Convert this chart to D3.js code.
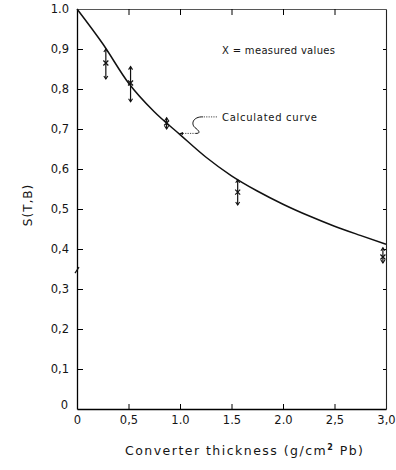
<!DOCTYPE html>
<html>
<head>
<meta charset="utf-8">
<script src="https://cdn.jsdelivr.net/npm/d3@7/dist/d3.min.js"></script>
<style>
  body { margin: 0; background: #fff; }
  svg { display: block; }
  text { font-family: "DejaVu Sans", sans-serif; fill: #151515; }
</style>
</head>
<body>
<svg id="chart" width="396" height="470"></svg>
<script>

// calculated curve
var curveX = [0, 0.25, 0.5, 0.75, 1.0, 1.25, 1.5, 1.75, 2.0, 2.25, 2.5, 2.75, 3.0];
var curveY = [1.0, 0.913, 0.815, 0.743, 0.686, 0.630, 0.583, 0.545, 0.512, 0.483, 0.457, 0.434, 0.412];

// measured values with their error bars
var pointX  = [0.28, 0.52, 0.87, 1.56, 2.97];
var pointY  = [0.865, 0.815, 0.715, 0.542, 0.38];
var errLow  = [0.825, 0.768, 0.700, 0.510, 0.365];
var errHigh = [0.900, 0.856, 0.728, 0.573, 0.403];

var xTicks = [0, 0.5, 1.0, 1.5, 2.0, 2.5, 3.0];
var xTickLabels = ["0", "0,5", "1.0", "1.5", "2.0", "2,5", "3,0"];
var yTicks = [0, 0.1, 0.2, 0.3, 0.4, 0.5, 0.6, 0.7, 0.8, 0.9, 1.0];
var yTickLabels = ["0", "0,1", "0,2", "0,3", "0,4", "0,5", "0,6", "0,7", "0,8", "0,9", "1.0"];

var svg = d3.select("#chart");

var x = d3.scaleLinear().domain([0, 3]).range([77, 386]);
var y = d3.scaleLinear().domain([0, 1]).range([409, 9]);

// --- frame: top and right sides, thin with small inward ticks
svg.append("g")
    .attr("transform", "translate(0," + y(1) + ")")
    .call(d3.axisTop(x).tickValues(xTicks.slice(1, -1)).tickSize(-6).tickSizeOuter(0).tickFormat(""))
    .call(function(g){ g.select(".domain").attr("stroke", "#444").attr("stroke-width", 0.9); });

svg.append("g")
    .attr("transform", "translate(" + x(3) + ",0)")
    .call(d3.axisRight(y).tickValues(yTicks.slice(1, -1)).tickSize(-3).tickSizeOuter(0).tickFormat(""))
    .call(function(g){ g.select(".domain").attr("stroke", "#222").attr("stroke-width", 1.1); });

// --- left axis
var yAxis = svg.append("g")
    .attr("transform", "translate(" + x(0) + ",0)")
    .call(d3.axisLeft(y).tickValues(yTicks).tickSize(-6).tickSizeOuter(0).tickPadding(8)
        .tickFormat(function(d, i){ return yTickLabels[i]; }));
yAxis.select(".domain").attr("stroke-width", 1.3);
yAxis.selectAll("text").attr("font-size", 11.5).attr("fill", "#151515");
yAxis.selectAll(".tick").filter(function(d){ return d === 0 || d === 1; }).select("line").remove();
yAxis.selectAll(".tick").filter(function(d){ return d === 0; }).select("text").attr("y", -4).attr("x", -9);

// axis break mark at ~0.35
svg.append("path")
    .attr("d", "M" + (x(0) - 2) + "," + (y(0.347) + 3) + "L" + (x(0) + 2) + "," + (y(0.347) - 3))
    .attr("stroke", "#111").attr("stroke-width", 1.2);

// --- bottom axis
var xAxis = svg.append("g")
    .attr("transform", "translate(0," + y(0) + ")")
    .call(d3.axisBottom(x).tickValues(xTicks).tickSize(-5).tickSizeOuter(0).tickPadding(7)
        .tickFormat(function(d, i){ return xTickLabels[i]; }));
xAxis.select(".domain").attr("stroke-width", 1.3);
xAxis.selectAll("text").attr("font-size", 11.5).attr("fill", "#151515");
xAxis.selectAll(".tick").filter(function(d){ return d === 0 || d === 3; }).select("line").remove();

// --- axis titles
svg.append("text")
    .attr("x", 125).attr("y", 455)
    .attr("font-size", 12.5)
    .attr("textLength", 238).attr("lengthAdjust", "spacing")
    .html("Converter thickness (g/cm<tspan font-size='8' dy='-5' font-weight='bold'>2</tspan><tspan dy='5'> Pb)</tspan>");

svg.append("text")
    .attr("transform", "translate(32,205) rotate(-90)")
    .attr("text-anchor", "middle")
    .attr("font-size", 12)
    .attr("letter-spacing", 1)
    .text("S(T,B)");

// --- calculated curve
var line = d3.line()
    .x(function(d){ return x(d[0]); })
    .y(function(d){ return y(d[1]); })
    .curve(d3.curveMonotoneX);

svg.append("path")
    .datum(d3.zip(curveX, curveY))
    .attr("d", line)
    .attr("fill", "none")
    .attr("stroke", "#111")
    .attr("stroke-width", 1.5);

// --- measured values: error bars with arrow tips and an x mark
var pts = d3.range(pointX.length).map(function(i){
    return {x: pointX[i], y: pointY[i], lo: errLow[i], hi: errHigh[i]};
});

var g = svg.append("g").attr("stroke", "#111").attr("fill", "none");
pts.forEach(function(p){
    var px = x(p.x), lo = y(p.lo), hi = y(p.hi), py = y(p.y);
    g.append("line").attr("x1", px).attr("x2", px).attr("y1", hi).attr("y2", lo).attr("stroke-width", 1.2);
    g.append("path").attr("d", "M" + (px - 2) + "," + (hi + 3) + "L" + px + "," + hi + "L" + (px + 2) + "," + (hi + 3)).attr("stroke-width", 1.1);
    g.append("path").attr("d", "M" + (px - 2) + "," + (lo - 3) + "L" + px + "," + lo + "L" + (px + 2) + "," + (lo - 3)).attr("stroke-width", 1.1);
    g.append("path").attr("d", "M" + (px - 2.5) + "," + (py - 2.5) + "L" + (px + 2.5) + "," + (py + 2.5) +
        "M" + (px + 2.5) + "," + (py - 2.5) + "L" + (px - 2.5) + "," + (py + 2.5)).attr("stroke-width", 1.2);
});

// --- legend note and curve annotation
svg.append("text")
    .attr("x", 222).attr("y", 54)
    .attr("font-size", 10)
    .attr("textLength", 113).attr("lengthAdjust", "spacing")
    .text("X = measured values");

svg.append("text")
    .attr("x", 222).attr("y", 120.5)
    .attr("font-size", 10)
    .attr("textLength", 95).attr("lengthAdjust", "spacing")
    .text("Calculated curve");

var ax = x(0.99), ay = y(0.689);
svg.append("path")
    .attr("d", "M" + (ax + 38) + "," + (ay - 16.5) + "L" + (ax + 24) + "," + (ay - 16.5))
    .attr("stroke", "#333").attr("stroke-width", 0.9).attr("stroke-dasharray", "1.2,1.2");
svg.append("path")
    .attr("d", "M" + (ax + 24) + "," + (ay - 16.5) + "C" + (ax + 14) + "," + (ay - 17) + " " + (ax + 11) + "," + (ay - 9) +
        " " + (ax + 17) + "," + (ay - 5) + "C" + (ax + 22) + "," + (ay - 1) + " " + (ax + 20) + "," + ay + " " + (ax + 17) + "," + ay)
    .attr("fill", "none").attr("stroke", "#111").attr("stroke-width", 1);
svg.append("path")
    .attr("d", "M" + (ax + 17) + "," + ay + "L" + (ax + 3) + "," + ay)
    .attr("stroke", "#333").attr("stroke-width", 0.9).attr("stroke-dasharray", "1.2,1.2");
svg.append("path")
    .attr("d", "M" + (ax + 4) + "," + (ay - 1.5) + "L" + ax + "," + ay + "L" + (ax + 4) + "," + (ay + 1.5) + "Z")
    .attr("fill", "#111");

</script>
</body>
</html>
